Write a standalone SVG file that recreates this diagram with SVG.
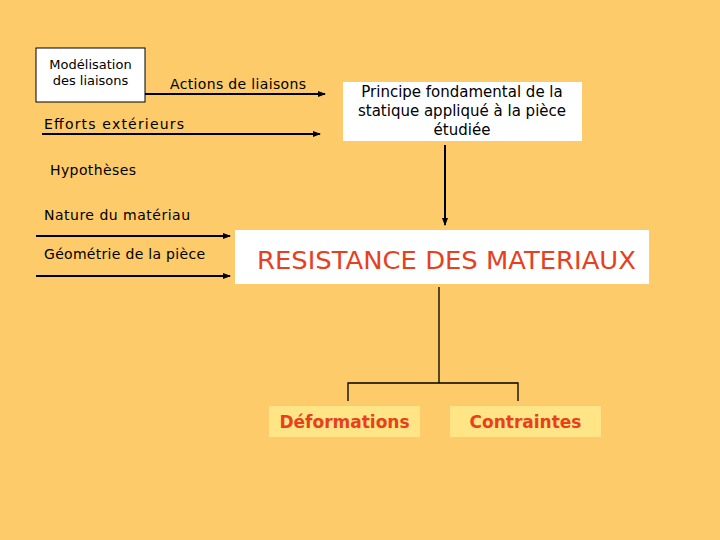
<svg xmlns="http://www.w3.org/2000/svg" width="720" height="540" viewBox="0 0 720 540">
<defs>
<marker id="ah" markerWidth="8" markerHeight="6" refX="7" refY="3" orient="auto" markerUnits="userSpaceOnUse">
<path d="M0,0 L8,3 L0,6 z" fill="#000"/>
</marker>
<style>
text{font-family:"DejaVu Sans","Liberation Sans",sans-serif;fill:#000}
.lbl{font-size:14px}
.red{fill:#E8401C;font-weight:bold}
.arr{stroke:#000;stroke-width:2;fill:none;marker-end:url(#ah)}
.thin{stroke:#000;stroke-width:1.3;fill:none}
</style>
</defs>
<rect width="720" height="540" fill="#FDCB6A"/>
<g id="modelisation">
<rect x="36" y="48" width="109" height="54" fill="#fff" stroke="#000" stroke-width="1"/>
<text x="90.5" y="69" font-size="13" text-anchor="middle">Modélisation</text>
<text x="90.5" y="85" font-size="13" text-anchor="middle">des liaisons</text>
</g>
<g id="labels">
<text class="lbl" x="170" y="89" textLength="136">Actions de liaisons</text>
<text class="lbl" x="44" y="129" textLength="140">Efforts extérieurs</text>
<text class="lbl" x="50" y="175" textLength="86">Hypothèses</text>
<text class="lbl" x="44" y="220" textLength="146">Nature du matériau</text>
<text class="lbl" x="44" y="259" textLength="161">Géométrie de la pièce</text>
</g>
<g id="pfs">
<rect x="343" y="82" width="239" height="59" fill="#fff"/>
<text x="462" y="97" font-size="15" text-anchor="middle">Principe fondamental de la</text>
<text x="462" y="116" font-size="15" text-anchor="middle">statique appliqué à la pièce</text>
<text x="462" y="135" font-size="15" text-anchor="middle">étudiée</text>
</g>
<g id="rdm">
<rect x="235" y="230" width="414" height="54" fill="#fff"/>
<text x="257" y="269" font-size="25" fill="#E8401C" style="fill:#E8401C" textLength="379" lengthAdjust="spacingAndGlyphs">RESISTANCE DES MATERIAUX</text>
</g>
<g id="deformations">
<rect x="269" y="406" width="151" height="31" fill="#FFE585"/>
<text x="344.5" y="428" font-size="17" class="red" text-anchor="middle">Déformations</text>
</g>
<g id="contraintes">
<rect x="450" y="406" width="151" height="31" fill="#FFE585"/>
<text x="525.5" y="428" font-size="17" class="red" text-anchor="middle">Contraintes</text>
</g>
<g id="connectors">
<path class="arr" d="M145,94 H325"/>
<path class="arr" d="M42,134 H320"/>
<path class="arr" d="M36,236 H230"/>
<path class="arr" d="M36,276 H230"/>
<path class="arr" d="M445,145 V225"/>
<path class="thin" d="M439,287 V383 M348,401 V383 H518 V401"/>
</g>
</svg>
